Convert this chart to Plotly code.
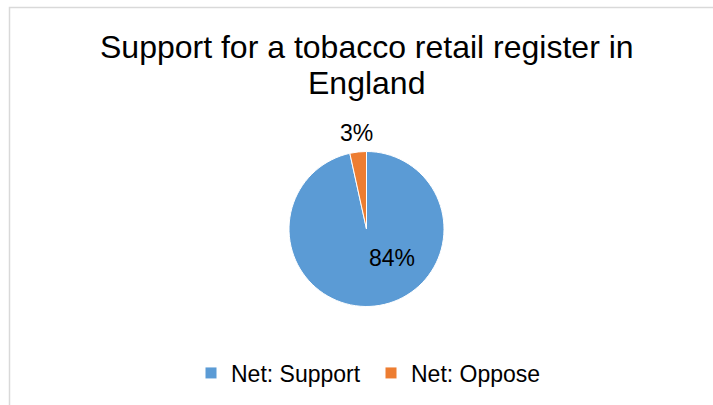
import plotly.graph_objects as go

categories = ["Net: Support", "Net: Oppose"]
values = [84, 3]
label_text = ["84%", "3%"]
colors = ["#5B9BD5", "#ED7D31"]
title_lines = ["Support for a tobacco retail register in", "England"]

W, H = 713, 405
FONT = "Arial, Liberation Sans, sans-serif"

# pie placement (pixels from top-left)
CX, CY, R = 366.5, 229.0, 77.5
# data label placement relative to the pie centre (pixels, right/down)
label_offsets = [(25.0, 29.0), (-10.0, -96.0)]

fig = go.Figure(go.Pie(
    labels=categories,
    values=values,
    textinfo="none",
    hoverinfo="label+percent",
    marker=dict(colors=colors, line=dict(color="#FFFFFF", width=1)),
    sort=False,
    direction="clockwise",
    rotation=0,
    hole=0,
    domain=dict(x=[(CX - 300) / W, (CX + 300) / W], y=[1 - (CY + R) / H, 1 - (CY - R) / H]),
    showlegend=True,
))

annotations = [
    dict(text=title_lines[0], x=CX / W, y=1 - 47.5 / H, xref="paper", yref="paper",
         xanchor="center", yanchor="middle", showarrow=False,
         font=dict(family=FONT, size=32, color="#000000")),
    dict(text=title_lines[1], x=CX / W, y=1 - 82.6 / H, xref="paper", yref="paper",
         xanchor="center", yanchor="middle", showarrow=False,
         font=dict(family=FONT, size=32, color="#000000")),
]
for txt, (dx, dy) in zip(label_text, label_offsets):
    annotations.append(dict(text=txt, x=(CX + dx) / W, y=1 - (CY + dy) / H,
                            xref="paper", yref="paper", xanchor="center", yanchor="middle",
                            showarrow=False, font=dict(family=FONT, size=23, color="#000000")))

fig.update_layout(
    width=W, height=H,
    margin=dict(l=0, r=0, t=0, b=0, autoexpand=False),
    paper_bgcolor="#FFFFFF",
    plot_bgcolor="#FFFFFF",
    font=dict(family=FONT, color="#000000"),
    legend=dict(
        orientation="h",
        x=(CX + 4.5) / W, xanchor="center",
        y=1 - 373 / H, yanchor="middle",
        font=dict(family=FONT, size=23, color="#000000"),
        bgcolor="rgba(0,0,0,0)",
        entrywidth=135,
    ),
    annotations=annotations,
    shapes=[
        dict(type="rect", xref="paper", yref="paper",
             x0=9.5 / W, x1=1.05, y0=-0.05, y1=1 - 7.5 / H,
             line=dict(color="#D9D9D9", width=1.5), fillcolor="rgba(0,0,0,0)"),
    ],
)

fig.write_html(
    "out.html",
    config={"displayModeBar": False},
    post_script="document.body.style.margin='0px';document.body.style.overflow='hidden';",
)
